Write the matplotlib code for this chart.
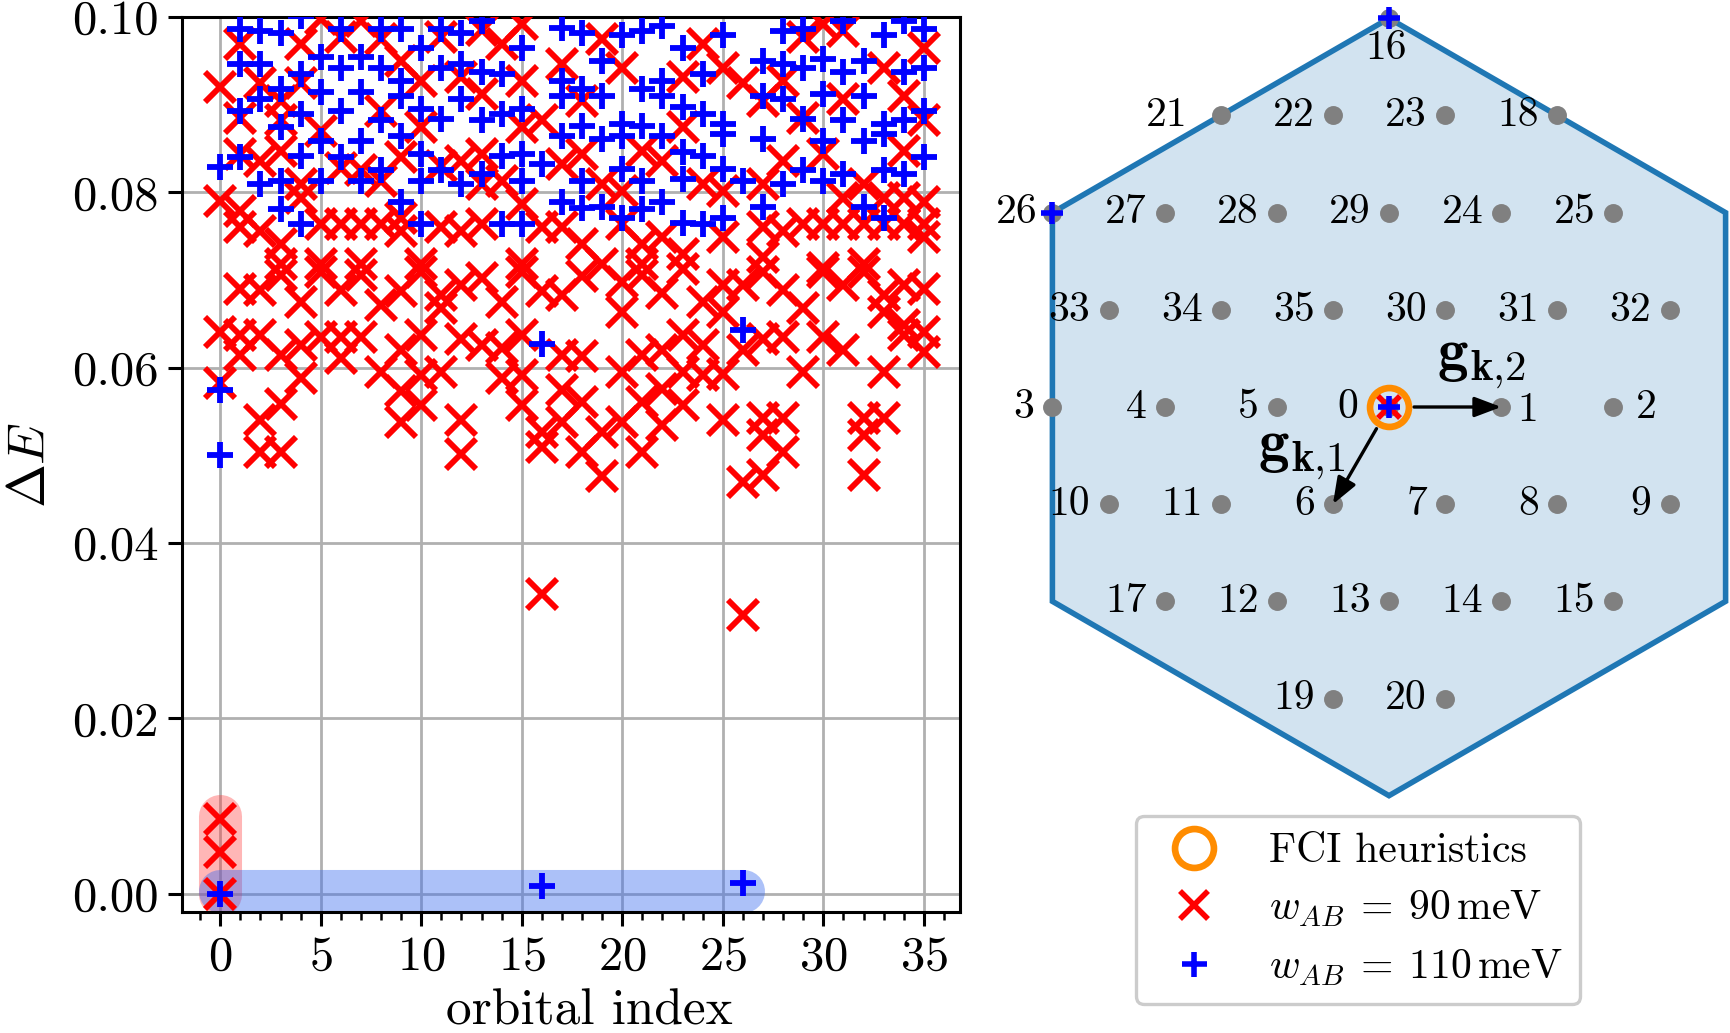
import numpy as np
import matplotlib
matplotlib.use('Agg')
import matplotlib.pyplot as plt
from matplotlib import ticker
from matplotlib.lines import Line2D

plt.rcParams['font.family'] = 'serif'
plt.rcParams['font.serif'] = ['cmr10']
plt.rcParams['mathtext.fontset'] = 'cm'
plt.rcParams['axes.unicode_minus'] = False
plt.rcParams['axes.formatter.use_mathtext'] = True

# excitation energies per orbital index (one list per orbital, 0..35)
red_dE = [
    [0.0920, 0.0790, 0.0641, 0.0582, 0.0085, 0.0048, 0.0],
    [0.0969, 0.0885, 0.0844, 0.0779, 0.0760, 0.0690, 0.0637, 0.0614],
    [0.0925, 0.0836, 0.0756, 0.0688, 0.0637, 0.0540, 0.0504],
    [0.0904, 0.0882, 0.0847, 0.0741, 0.0718, 0.0706, 0.0614, 0.0559, 0.0504],
    [0.0969, 0.0925, 0.0809, 0.0794, 0.0675, 0.0626, 0.0588],
    [0.0998, 0.0870, 0.0764, 0.0718, 0.0709, 0.0635],
    [0.0977, 0.0828, 0.0764, 0.0688, 0.0635, 0.0611],
    [0.0995, 0.0825, 0.0764, 0.0718, 0.0706, 0.0635],
    [0.0975, 0.0893, 0.0813, 0.0764, 0.0671, 0.0595],
    [0.0950, 0.0840, 0.0771, 0.0756, 0.0687, 0.0620, 0.0573, 0.0538],
    [0.0927, 0.0874, 0.0718, 0.0709, 0.0637, 0.0592, 0.0557],
    [0.0977, 0.0830, 0.0760, 0.0683, 0.0668, 0.0595],
    [0.0931, 0.0836, 0.0756, 0.0694, 0.0633, 0.0540, 0.0502],
    [0.0985, 0.0912, 0.0844, 0.0809, 0.0764, 0.0702, 0.0626],
    [0.0969, 0.0813, 0.0675, 0.0622, 0.0588],
    [0.0992, 0.0927, 0.0874, 0.0787, 0.0718, 0.0709, 0.0637, 0.0592, 0.0557],
    [0.0882, 0.0760, 0.0687, 0.0527, 0.0510, 0.0342],
    [0.0946, 0.0832, 0.0760, 0.0683, 0.0614, 0.0574, 0.0538],
    [0.0904, 0.0844, 0.0741, 0.0704, 0.0613, 0.0561, 0.0504],
    [0.0975, 0.0809, 0.0718, 0.0527, 0.0476],
    [0.0942, 0.0802, 0.0764, 0.0698, 0.0664, 0.0595, 0.0538],
    [0.0847, 0.0741, 0.0718, 0.0706, 0.0614, 0.0561, 0.0504],
    [0.0836, 0.0749, 0.0685, 0.0620, 0.0576, 0.0535],
    [0.0931, 0.0874, 0.0730, 0.0713, 0.0637, 0.0595, 0.0557],
    [0.0969, 0.0809, 0.0675, 0.0626, 0.0592],
    [0.0942, 0.0802, 0.0749, 0.0694, 0.0664, 0.0593, 0.0540],
    [0.0925, 0.0694, 0.0620, 0.0470, 0.0318],
    [0.0904, 0.0809, 0.0760, 0.0726, 0.0709, 0.0633, 0.0542, 0.0523, 0.0478],
    [0.0927, 0.0836, 0.0756, 0.0688, 0.0635, 0.0542, 0.0504],
    [0.0977, 0.0885, 0.0764, 0.0668, 0.0595],
    [0.0992, 0.0844, 0.0764, 0.0714, 0.0709, 0.0635],
    [0.0984, 0.0906, 0.0794, 0.0764, 0.0694, 0.0620],
    [0.0809, 0.0764, 0.0718, 0.0709, 0.0542, 0.0523, 0.0478],
    [0.0942, 0.0794, 0.0764, 0.0683, 0.0664, 0.0595, 0.0542],
    [0.0910, 0.0847, 0.0794, 0.0764, 0.0694, 0.0649, 0.0637],
    [0.0965, 0.0882, 0.0789, 0.0764, 0.0749, 0.0690, 0.0641, 0.0618],
]
blue_dE = [
    [0.0829, 0.0575, 0.0500, 0.0],
    [0.0986, 0.0946, 0.0893, 0.0840],
    [0.0984, 0.0946, 0.0906, 0.0809],
    [0.0982, 0.0918, 0.0874, 0.0813, 0.0781],
    [0.1001, 0.0935, 0.0889, 0.0842, 0.0764],
    [0.0954, 0.0914, 0.0859, 0.0813],
    [0.0986, 0.0942, 0.0893, 0.0840],
    [0.0954, 0.0914, 0.0859, 0.0813],
    [0.0986, 0.0942, 0.0883, 0.0825],
    [0.0986, 0.0927, 0.0910, 0.0864, 0.0789],
    [0.0965, 0.0895, 0.0844, 0.0813, 0.0764],
    [0.0986, 0.0942, 0.0884, 0.0825],
    [0.0982, 0.0946, 0.0906, 0.0809],
    [0.0996, 0.0937, 0.0882, 0.0821],
    [0.0935, 0.0889, 0.0842, 0.0764],
    [0.0965, 0.0895, 0.0844, 0.0813, 0.0764],
    [0.0832, 0.0627, 0.0009],
    [0.0988, 0.0927, 0.0910, 0.0864, 0.0789],
    [0.0982, 0.0918, 0.0876, 0.0813, 0.0782],
    [0.0950, 0.0910, 0.0861, 0.0783],
    [0.0980, 0.0878, 0.0864, 0.0827, 0.0771],
    [0.0984, 0.0918, 0.0876, 0.0813, 0.0781],
    [0.0990, 0.0927, 0.0910, 0.0864, 0.0789],
    [0.0965, 0.0897, 0.0846, 0.0815, 0.0765],
    [0.0935, 0.0889, 0.0842, 0.0764],
    [0.0980, 0.0878, 0.0866, 0.0827, 0.0771],
    [0.0813, 0.0643, 0.0012],
    [0.0950, 0.0910, 0.0861, 0.0783],
    [0.0984, 0.0946, 0.0906, 0.0809],
    [0.0986, 0.0942, 0.0884, 0.0825],
    [0.0952, 0.0912, 0.0859, 0.0813],
    [0.0996, 0.0937, 0.0882, 0.0821],
    [0.0950, 0.0910, 0.0859, 0.0783],
    [0.0980, 0.0878, 0.0866, 0.0825, 0.0771],
    [0.0996, 0.0937, 0.0882, 0.0821],
    [0.0986, 0.0942, 0.0893, 0.0840],
]

# k-points of the orbitals: column position and lattice row (triangular lattice)
k_col = [0, 1, 2, -3, -2, -1, -0.5, 0.5, 1.5, 2.5, -2.5, -1.5, -1, 0, 1, 2, 0, -2,
         1.5, -0.5, 0.5, -1.5, -0.5, 0.5, 1, 2, -3, -2, -1, 0, 0.5, 1.5, 2.5, -2.5, -1.5, -0.5]
k_row = [0, 0, 0, 0, 0, 0, -1, -1, -1, -1, -1, -1, -2, -2, -2, -2, 4, -2,
         3, -3, -3, 3, 3, 3, 2, 2, 2, 2, 2, 2, 1, 1, 1, 1, 1, 1]

# highlighted groups of near-degenerate states
red_band_x, red_band_y = [0, 0], [0.0, 0.0088]
blue_band_x, blue_band_y = [0, 26], [0.0003, 0.0003]

RED = '#ff0000'
BLUE = '#0000ff'
ORANGE = '#ff8c00'

fig = plt.figure(figsize=(8.65, 5.165), dpi=200)
W, H = 1730, 1033
ax = fig.add_axes([182 / W, 1 - 912 / H, (960 - 182) / W, (912 - 17) / H])

ax.plot(red_band_x, red_band_y, color='#ff3030', alpha=0.35, lw=15.5,
        solid_capstyle='round', zorder=1)
ax.plot(blue_band_x, blue_band_y, color='#3a6cf0', alpha=0.42, lw=15.5,
        solid_capstyle='round', zorder=1)

rx = [i for i, vals in enumerate(red_dE) for _ in vals]
ry = [v for vals in red_dE for v in vals]
bx = [i for i, vals in enumerate(blue_dE) for _ in vals]
by = [v for vals in blue_dE for v in vals]
ax.plot(rx, ry, ls='none', marker='x', ms=10.5, mew=2.1, color=RED, zorder=3)
ax.plot(bx, by, ls='none', marker='+', ms=9.5, mew=2.1, color=BLUE, zorder=4)

ax.set_xlim(-1.9, 36.8)
ax.set_ylim(-0.0021, 0.1)
ax.xaxis.set_major_locator(ticker.MultipleLocator(5))
ax.xaxis.set_minor_locator(ticker.MultipleLocator(1))
ax.yaxis.set_major_locator(ticker.MultipleLocator(0.02))
ax.yaxis.set_major_formatter(ticker.FormatStrFormatter('%.2f'))
ax.grid(True, color='#b0b0b0', lw=1.0)
ax.set_axisbelow(True)
ax.tick_params(axis='both', which='major', labelsize=17.5, length=5, width=1.1)
ax.tick_params(axis='x', which='minor', length=3, width=0.9)
for sp in ax.spines.values():
    sp.set_linewidth(1.1)
ax.set_xlabel('orbital index', fontsize=18.5, labelpad=5)
ax.xaxis.set_label_coords(0.523, -0.086)
ax.set_ylabel(r'$\Delta E$', fontsize=19, labelpad=6)

# ---- Brillouin zone panel
s = 112.2
ox, oy = 1389, 407
bx0, bx1 = 1030, 1730
ax2 = fig.add_axes([bx0 / W, 0, (bx1 - bx0) / W, 1])
ax2.set_xlim((bx0 - ox) / s, (bx1 - ox) / s)
ax2.set_ylim((oy - H) / s, oy / s)
ax2.set_axis_off()

h = np.sqrt(3) / 2
R = 4 * h
ang = np.deg2rad(90 + 60 * np.arange(6))
hx, hy = R * np.cos(ang), R * np.sin(ang)
ax2.fill(hx, hy, facecolor='#1f77b4', alpha=0.2, lw=0, zorder=0)
ax2.plot(np.append(hx, hx[0]), np.append(hy, hy[0]), color='#1f77b4', lw=2.0,
         solid_joinstyle='miter', zorder=1, clip_on=False)

kx = np.array(k_col, dtype=float)
ky = np.array(k_row, dtype=float) * h
ax2.plot(kx, ky, ls='none', marker='o', ms=5.8, color='gray', zorder=2, clip_on=False)

label_off = {16: (-1, -4, 'center', 'top'), 21: (-12, 0, 'right', 'center'),
             0: (-11, 0, 'right', 'center'), 1: (6, -1, 'left', 'center'),
             2: (8, 0, 'left', 'center'), 26: (-5.5, 0, 'right', 'center')}
for i in range(len(kx)):
    dx, dy, ha, va = label_off.get(i, (-6.5, 0, 'right', 'center'))
    ax2.annotate(str(i), (kx[i], ky[i]), xytext=(dx, dy), textcoords='offset points',
                 ha=ha, va=va, fontsize=15, zorder=5)

arrow_kw = dict(arrowstyle='-|>,head_length=0.45,head_width=0.17', color='black',
                lw=1.2, shrinkA=9, shrinkB=0, mutation_scale=18)
ax2.annotate('', xy=(kx[1], ky[1]), xytext=(kx[0], ky[0]), arrowprops=arrow_kw, zorder=3)
ax2.annotate('', xy=(kx[6], ky[6]), xytext=(kx[0], ky[0]), arrowprops=arrow_kw, zorder=3)
ax2.text(0.82, 0.39, r'$\mathbf{g}_{\mathbf{k}{,}2}$', fontsize=22, ha='center', va='center')
ax2.text(-0.78, -0.42, r'$\mathbf{g}_{\mathbf{k}{,}1}$', fontsize=22, ha='center', va='center')

# ground-state k-points of each calculation
red_gs = [i for i, vals in enumerate(red_dE) if min(vals) < 0.002]
blue_gs = [i for i, vals in enumerate(blue_dE) if min(vals) < 0.002]
fci = ax2.plot([kx[0]], [ky[0]], ls='none', marker='o', ms=14, mfc='none', mew=2.4,
               color=ORANGE, zorder=4, label='FCI heuristics')[0]
red_h = ax2.plot(kx[red_gs], ky[red_gs], ls='none', marker='x', ms=8, mew=2.0, color=RED,
                 zorder=5, clip_on=False)[0]
blue_h = ax2.plot(kx[blue_gs], ky[blue_gs], ls='none', marker='+', ms=8, mew=2.0, color=BLUE,
                  zorder=6, clip_on=False)[0]

handles = [fci,
           Line2D([], [], ls='none', marker='x', ms=10, mew=2.0, color=RED),
           Line2D([], [], ls='none', marker='+', ms=9, mew=2.0, color=BLUE)]
labels = ['FCI heuristics', r'$w_{AB}\:=\:90\,\mathrm{meV}$', r'$w_{AB}\:=\:110\,\mathrm{meV}$']
leg = fig.legend(handles, labels, loc='upper left', bbox_to_anchor=(1136 / W, 1 - 816 / H),
                 bbox_transform=fig.transFigure, borderaxespad=0, fontsize=15,
                 handletextpad=0.8, labelspacing=0.45, framealpha=1, edgecolor='0.8')
leg.get_frame().set_linewidth(1.2)

fig.savefig('out.png', dpi=200)
